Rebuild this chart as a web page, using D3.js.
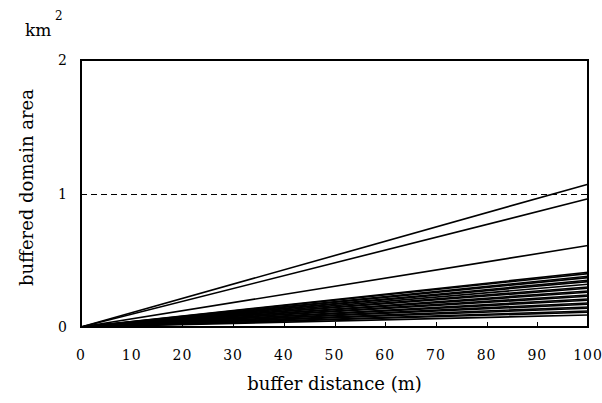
<!DOCTYPE html>
<html>
<head>
<meta charset="utf-8">
<script src="https://cdn.jsdelivr.net/npm/d3@7"></script>
<style>
  body { margin: 0; background: #fff; }
</style>
</head>
<body>
<div id="chart"></div>
<script>
// buffered domain area vs buffer distance

const distances = [0, 100];            // buffer distance (m)
const xTicks = [0, 10, 20, 30, 40, 50, 60, 70, 80, 90, 100];
const yTicks = [0, 1, 2];
const threshold = 1;                   // km2 reference line

// area (km2) at each distance, one array per domain
const topSeries = [
    [0, 1.07],
    [0, 0.96],
    [0, 0.61]
];
const bundleEnds = [0.41, 0.40, 0.38, 0.37, 0.35, 0.34, 0.32, 0.30, 0.29, 0.27, 0.26,
                    0.24, 0.23, 0.21, 0.20, 0.18, 0.17, 0.15, 0.14, 0.12, 0.11, 0.09];

const series = topSeries.concat(bundleEnds.map(v => [0, v]));

const width = 602, height = 403;
const margin = { top: 60, right: 14, bottom: 76, left: 81 };
const serif = '"DejaVu Serif", "Liberation Serif", serif';

const svg = d3.select('#chart').append('svg')
    .attr('width', width)
    .attr('height', height)
    .style('font-family', serif);

const x = d3.scaleLinear()
    .domain([0, 100])
    .range([margin.left, width - margin.right]);

const y = d3.scaleLinear()
    .domain([0, 2])
    .range([height - margin.bottom, margin.top]);

// plot frame
svg.append('rect')
    .attr('x', x(0))
    .attr('y', y(2))
    .attr('width', x(100) - x(0))
    .attr('height', y(0) - y(2))
    .attr('fill', 'none')
    .attr('stroke', '#000')
    .attr('stroke-width', 1.5)
    .attr('shape-rendering', 'crispEdges');

// x ticks point inward
svg.append('g')
    .selectAll('line')
    .data(xTicks.slice(1, -1))
    .join('line')
    .attr('x1', d => Math.round(x(d)) + 0.5)
    .attr('x2', d => Math.round(x(d)) + 0.5)
    .attr('y1', y(0))
    .attr('y2', y(0) - 5)
    .attr('stroke', '#000');

svg.append('g')
    .selectAll('text')
    .data(xTicks)
    .join('text')
    .attr('x', d => x(d))
    .attr('y', y(0) + 33)
    .attr('text-anchor', 'middle')
    .style('font-family', serif)
    .style('font-size', '14px')
    .style('letter-spacing', '1px')
    .text(d => d);

svg.append('g')
    .selectAll('text')
    .data(yTicks)
    .join('text')
    .attr('x', x(0) - 14)
    .attr('y', d => y(d) + 5)
    .attr('text-anchor', 'end')
    .style('font-family', serif)
    .style('font-size', '14px')
    .text(d => d);

// dashed 1 km2 line
svg.append('line')
    .attr('x1', x(0))
    .attr('x2', x(100))
    .attr('y1', Math.round(y(threshold)) + 0.5)
    .attr('y2', Math.round(y(threshold)) + 0.5)
    .attr('stroke', '#000')
    .attr('stroke-dasharray', '6,4');

// area lines
const line = d3.line()
    .x((d, i) => x(distances[i]))
    .y(d => y(d));

svg.append('g')
    .selectAll('path')
    .data(series)
    .join('path')
    .attr('d', line)
    .attr('fill', 'none')
    .attr('stroke', '#000')
    .attr('stroke-width', 1.6);

// axis titles
svg.append('text')
    .attr('x', 25)
    .attr('y', 36)
    .style('font-family', serif)
    .style('font-size', '17px')
    .text('km');

svg.append('text')
    .attr('x', 55)
    .attr('y', 20)
    .style('font-family', serif)
    .style('font-size', '12px')
    .text('2');

svg.append('text')
    .attr('transform', `translate(33, ${(y(0) + y(2)) / 2 - 6}) rotate(-90)`)
    .attr('text-anchor', 'middle')
    .style('font-family', serif)
    .style('font-size', '18px')
    .text('buffered domain area');

svg.append('text')
    .attr('x', (x(0) + x(100)) / 2)
    .attr('y', 390)
    .attr('text-anchor', 'middle')
    .style('font-family', serif)
    .style('font-size', '18px')
    .text('buffer distance (m)');
</script>
</body>
</html>
